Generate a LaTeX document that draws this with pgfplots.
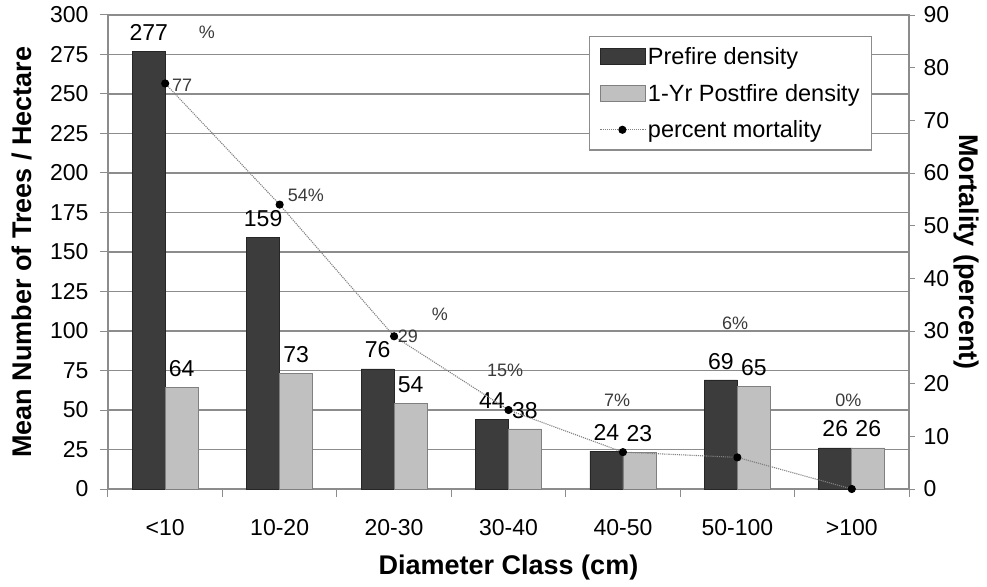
\documentclass[border=0pt]{standalone}
\usepackage{pgfplots}
\pgfplotsset{compat=1.18}
\usepackage{fontspec}
\setmainfont{Liberation Sans}
\definecolor{prefire}{HTML}{3C3C3C}
\definecolor{postfire}{HTML}{C0C0C0}
\definecolor{gridc}{HTML}{8C8C8C}
\definecolor{mortc}{HTML}{3A3A3A}
\pgfplotsset{
  barleg/.style={legend image code/.code={\draw[##1] (0pt,-8pt) rectangle (45pt,8pt);}},
  lineleg/.style={legend image code/.code={\draw[mark repeat=2,mark phase=2,##1] plot coordinates {(0pt,0pt) (22pt,0pt) (45pt,0pt)};}},
}
\newcommand{\tickfont}{\fontsize{23}{27}\selectfont}
\newcommand{\legfont}{\fontsize{23.5}{27}\selectfont}
\newcommand{\labfont}{\fontsize{27}{31}\selectfont\bfseries}
\newcommand{\mfont}{\fontsize{18}{21}\selectfont}
\begin{document}
\begin{tikzpicture}
\useasboundingbox (-108pt,-97pt) rectangle (879pt,489pt);
\begin{axis}[
  scale only axis, width=801pt, height=474pt,
  xmin=-0.5, xmax=6.5, ymin=0, ymax=300,
  ytick={0,25,...,300},
  xtick={-0.5,0.5,...,6.5},
  x tick label as interval,
  xticklabels={<10,10-20,20-30,30-40,40-50,50-100,>100},
  xtick pos=bottom, ytick pos=left,
  tick align=outside, major tick length=8pt,
  tick style={gridc, line width=1pt},
  axis line style={gridc, line width=1.2pt},
  ymajorgrids, grid style={gridc, line width=1.2pt},
  /pgf/number format/assume math mode=true,
  tick label style={font=\tickfont},
  xticklabel style={yshift=-19pt},
  yticklabel style={xshift=-8pt},
  ylabel={Mean Number of Trees / Hectare},
  ylabel style={font=\labfont, at={([xshift=-86pt]axis description cs:0,0.5)}, anchor=center},
  xlabel={Diameter Class (cm)},
  xlabel style={font=\labfont, at={([yshift=-79pt]axis description cs:0.5,0)}, anchor=center},
  ybar=0pt, bar width=33pt,
  nodes near coords,
  every node near coord/.append style={font=\tickfont, text=black, yshift=7pt},
]
\addplot[fill=prefire, draw=black!85, line width=0.8pt] coordinates {(0,277) (1,159) (2,76) (3,44) (4,24) (5,69) (6,26)};
\addplot[fill=postfire, draw=gray, line width=0.8pt] coordinates {(0,64) (1,73) (2,54) (3,38) (4,23) (5,65) (6,26)};
\end{axis}
\begin{axis}[
  scale only axis, width=801pt, height=474pt,
  xmin=-0.5, xmax=6.5, ymin=0, ymax=90,
  axis x line=none, axis y line*=right,
  ytick={0,10,...,90},
  tick align=outside, major tick length=6pt,
  tick style={gridc, line width=1pt},
  axis line style={gridc, line width=1.2pt},
  /pgf/number format/assume math mode=true,
  tick label style={font=\tickfont},
  yticklabel style={xshift=5pt},
  ylabel={Mortality (percent)},
  ylabel style={font=\labfont, at={([xshift=57pt]axis description cs:1,0.5)}, anchor=center, rotate=180},
  legend style={at={(rel axis cs:0.954,0.956)}, anchor=north east, draw=gridc, line width=1.2pt,
    font=\legfont, cells={anchor=west}, row sep=14pt, inner xsep=10pt, inner ysep=9pt,
    /tikz/every even column/.append style={column sep=4pt}},
]
\addlegendimage{barleg, fill=prefire, draw=black!85, line width=0.8pt}
\addlegendentry{Prefire density}
\addlegendimage{barleg, fill=postfire, draw=gray, line width=0.8pt}
\addlegendentry{1-Yr Postfire density}
\addplot[lineleg, gray, densely dotted, line width=1.1pt, mark=*, mark size=3.5pt, mark options={solid, fill=black, draw=black}]
  coordinates {(0,77) (1,54) (2,29) (3,15) (4,7) (5,6) (6,0)};
\addlegendentry{percent mortality}
\node[font=\mfont, text=mortc] at (axis cs:0.147,76.7) {77};
\node[font=\mfont, text=mortc] at (axis cs:0.365,86.8) {\%};
\node[font=\mfont, text=mortc] at (axis cs:1.23,55.8) {54\%};
\node[font=\mfont, text=mortc] at (axis cs:2.12,28.9) {29};
\node[font=\mfont, text=mortc] at (axis cs:2.40,33.2) {\%};
\node[font=\mfont, text=mortc] at (axis cs:2.97,22.6) {15\%};
\node[font=\mfont, text=mortc] at (axis cs:3.95,16.9) {7\%};
\node[font=\mfont, text=mortc] at (axis cs:4.98,31.5) {6\%};
\node[font=\mfont, text=mortc] at (axis cs:5.97,16.9) {0\%};
\end{axis}
\end{tikzpicture}
\end{document}
